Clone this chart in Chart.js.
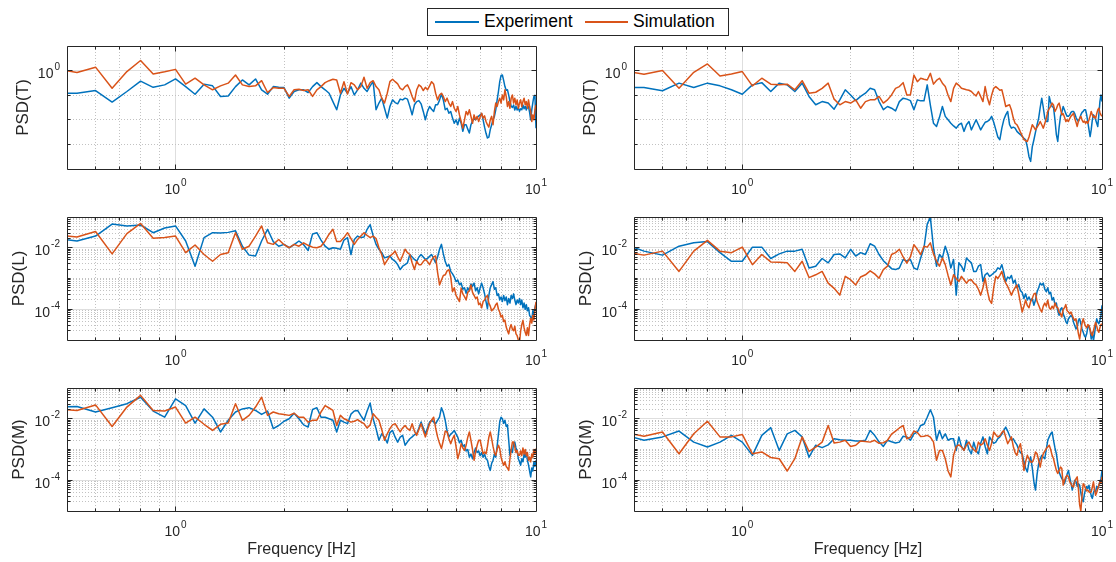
<!DOCTYPE html>
<html>
<head>
<meta charset="utf-8">
<title>PSD comparison</title>
<script src="https://cdn.jsdelivr.net/npm/chart.js"></script>
<style>
  html, body { margin: 0; padding: 0; background: #fff; }
  #fig { position: relative; width: 1116px; height: 562px; overflow: hidden;
         font-family: "Liberation Sans", Arial, Helvetica, sans-serif; }
  #fig canvas { position: absolute; left: 0; top: 0; }
  #legend { position: absolute; left: 427px; top: 8px; width: 302px; height: 28px;
            box-sizing: border-box; border: 1px solid #262626; background: #fff; }
  .sw { position: absolute; top: 12px; height: 2px; }
  .lt { position: absolute; top: 2px; font-size: 17.5px; line-height: 20px; color: #000; white-space: nowrap; }
</style>
</head>
<body>
<div id="fig">
  <canvas id="c1" width="1116" height="562"></canvas>
  <canvas id="c2" width="1116" height="562"></canvas>
  <canvas id="c3" width="1116" height="562"></canvas>
  <canvas id="c4" width="1116" height="562"></canvas>
  <canvas id="c5" width="1116" height="562"></canvas>
  <canvas id="c6" width="1116" height="562"></canvas>
  <div id="legend">
    <div class="sw" style="left:7px;width:44px;background:#0072BD"></div>
    <div class="lt" style="left:56px">Experiment</div>
    <div class="sw" style="left:157px;width:43px;background:#D95319"></div>
    <div class="lt" style="left:205px">Simulation</div>
  </div>
</div>
<script>
// frequency bins (Hz), resolution 1/15 Hz
const freqHz = [
  0.467, 0.533, 0.6, 0.667, 0.733, 0.8, 0.867, 0.933, 1,
  1.067, 1.133, 1.2, 1.267, 1.333, 1.4, 1.467, 1.533, 1.6, 1.667, 1.733, 1.8, 1.867, 1.933, 2,
  2.067, 2.133, 2.2, 2.267, 2.333, 2.4, 2.467, 2.533, 2.6, 2.667, 2.733, 2.8, 2.867, 2.933, 3,
  3.067, 3.133, 3.2, 3.267, 3.333, 3.4, 3.467, 3.533, 3.6, 3.667, 3.733, 3.8, 3.867, 3.933, 4,
  4.067, 4.133, 4.2, 4.267, 4.333, 4.4, 4.467, 4.533, 4.6, 4.667, 4.733, 4.8, 4.867, 4.933, 5,
  5.067, 5.133, 5.2, 5.267, 5.333, 5.4, 5.467, 5.533, 5.6, 5.667, 5.733, 5.8, 5.867, 5.933, 6,
  6.067, 6.133, 6.2, 6.267, 6.333, 6.4, 6.467, 6.533, 6.6, 6.667, 6.733, 6.8, 6.867, 6.933, 7,
  7.067, 7.133, 7.2, 7.267, 7.333, 7.4, 7.467, 7.533, 7.6, 7.667, 7.733, 7.8, 7.867, 7.933, 8,
  8.067, 8.133, 8.2, 8.267, 8.333, 8.4, 8.467, 8.533, 8.6, 8.667, 8.733, 8.8, 8.867, 8.933, 9,
  9.067, 9.133, 9.2, 9.267, 9.333, 9.4, 9.467, 9.533, 9.6, 9.667, 9.733, 9.8, 9.867, 9.933, 10
];

// all PSD series below are log10(PSD), one value per frequency bin

// PSD(T), left column
const tExpLeft = [
  -0.92, -0.92, -0.81, -1.28, -0.85, -0.43, -0.68, -0.58, -0.34,
  -0.65, -0.96, -0.55, -0.62, -1.05, -1.03, -0.65, -0.38, -0.58, -0.34, -0.78, -0.96, -0.65, -0.68, -0.69,
  -1.12, -0.85, -0.78, -0.78, -0.89, -0.65, -0.49, -0.65, -0.78, -0.92, -1.26, -1.59, -0.99, -0.72, -0.92,
  -0.65, -0.99, -0.78, -0.51, -0.72, -0.85, -0.62, -0.45, -1.59, -1.32, -1.12, -1.53, -1.93, -1.46, -1.19,
  -1.30, -1.35, -1.16, -1.19, -1.12, -1.16, -1.46, -1.80, -1.39, -1.26, -1.22, -1.35, -1.66, -2.00, -1.66,
  -1.46, -1.57, -1.66, -1.39, -1.39, -1.20, -0.95, -1.20, -1.59, -1.53, -1.73, -1.66, -1.93, -2.14, -2.00,
  -2.20, -1.93, -2.14, -2.47, -2.20, -2.20, -2.38, -2.54, -2.20, -2.05, -1.95, -2.00, -1.90, -1.85, -1.80,
  -1.75, -2.00, -2.30, -2.55, -2.74, -2.70, -2.40, -2.20, -2.00, -1.86, -1.60, -1.20, -0.85, -0.45, -0.20,
  -0.18, -0.40, -0.65, -0.80, -0.78, -1.00, -1.25, -1.45, -1.50, -1.40, -1.60, -1.45, -1.60, -1.50, -1.65,
  -1.55, -1.59, -1.40, -1.55, -1.45, -1.60, -1.45, -1.46, -1.70, -2.00, -1.60, -1.30, -1.05, -1.00, -2.34
];
const tSimLeft = [
  0.07, -0.08, 0.14, -0.72, -0.04, 0.41, -0.14, -0.05, 0.05,
  -0.55, -0.31, -0.58, -0.78, -0.62, -0.51, -0.18, -0.58, -0.65, -0.62, -0.41, -0.89, -0.69, -0.72, -0.72,
  -1.05, -0.78, -0.76, -0.81, -0.78, -1.05, -0.78, -0.65, -0.49, -0.41, -0.35, -0.38, -0.92, -0.45, -0.95,
  -0.49, -0.58, -0.78, -0.65, -0.27, -0.72, -0.49, -0.41, -0.65, -0.78, -1.12, -1.32, -0.92, -0.45, -0.35,
  -0.45, -0.54, -0.72, -0.78, -0.65, -0.58, -0.78, -1.05, -1.26, -0.78, -0.58, -0.65, -0.81, -0.68, -0.78,
  -0.62, -0.45, -0.54, -0.92, -1.19, -0.99, -0.92, -1.05, -1.26, -1.12, -1.32, -1.46, -1.26, -1.53, -1.66,
  -1.46, -1.80, -2.07, -2.34, -2.00, -1.66, -1.80, -1.59, -1.86, -2.14, -1.80, -2.00, -1.86, -2.07, -1.89,
  -1.73, -1.93, -1.84, -2.07, -2.20, -2.30, -2.00, -1.86, -2.20, -1.66, -1.32, -1.46, -1.26, -1.12, -1.32,
  -0.99, -1.19, -0.78, -1.05, -1.46, -1.26, -1.53, -1.12, -0.99, -1.32, -1.12, -1.39, -1.19, -1.53, -1.32,
  -1.19, -1.46, -1.26, -1.12, -1.39, -1.26, -1.53, -1.19, -1.46, -1.66, -2.07, -1.80, -2.00, -1.59, -1.39
];

// PSD(T), right column
const tExpRight = [
  -0.69, -0.69, -0.82, -0.51, -0.69, -0.51, -0.62, -0.78, -0.96,
  -0.58, -0.49, -0.85, -0.51, -0.58, -0.85, -0.51, -1.05, -1.39, -1.26, -1.32, -1.57, -1.19, -0.78, -0.99,
  -1.22, -1.05, -0.92, -0.72, -0.78, -1.26, -1.59, -1.46, -1.53, -1.64, -1.26, -1.12, -1.16, -1.22, -1.59,
  -1.19, -1.23, -1.23, -0.58, -1.40, -2.14, -2.27, -1.90, -1.46, -1.86, -2.00, -2.14, -2.25, -2.34, -2.20,
  -2.14, -2.47, -2.20, -2.07, -2.41, -2.20, -2.00, -2.20, -2.41, -2.25, -2.10, -2.07, -2.00, -1.86, -2.10,
  -2.40, -2.70, -2.81, -2.34, -2.00, -1.80, -1.66, -2.20, -2.34, -2.30, -2.34, -2.47, -2.54, -2.60, -2.68,
  -2.75, -2.81, -3.10, -3.50, -3.69, -3.10, -2.81, -2.50, -2.20, -1.93, -1.50, -1.12, -1.50, -1.93, -2.07,
  -2.07, -1.05, -1.30, -1.46, -1.50, -2.00, -2.60, -2.88, -2.30, -1.86, -1.70, -1.46, -1.60, -1.75, -1.86,
  -1.86, -1.80, -1.70, -1.66, -1.66, -1.75, -1.90, -2.00, -2.07, -1.95, -1.80, -1.70, -1.66, -1.59, -1.59,
  -1.80, -2.10, -2.40, -2.68, -2.40, -2.00, -1.80, -1.86, -2.00, -2.14, -2.27, -1.80, -1.26, -0.99, -1.26
];
const tSimRight = [
  0.00, -0.15, 0.00, -0.72, -0.07, 0.27, -0.22, -0.14, -0.04,
  -0.62, -0.31, -0.55, -0.58, -0.55, -0.78, -0.41, -0.92, -0.88, -0.72, -0.51, -1.16, -1.39, -1.26, -1.32,
  -1.19, -1.53, -1.26, -1.19, -1.19, -1.05, -1.32, -1.19, -0.99, -0.72, -0.65, -0.49, -0.99, -0.99, -0.18,
  -0.45, -0.31, -0.35, -0.38, -0.11, -0.55, -0.40, -0.31, -0.51, -0.65, -1.00, -1.26, -0.72, -0.51, -0.60,
  -0.72, -0.75, -0.78, -0.80, -0.85, -0.95, -1.03, -0.85, -1.05, -1.26, -0.65, -1.10, -1.39, -1.00, -0.72,
  -0.65, -0.72, -0.80, -0.78, -1.10, -1.46, -1.42, -1.39, -1.60, -1.93, -2.14, -2.20, -2.34, -2.50, -2.65,
  -2.81, -2.85, -2.88, -2.70, -2.45, -2.20, -2.30, -2.41, -2.30, -2.20, -2.07, -2.20, -2.34, -2.15, -1.95,
  -1.66, -1.55, -1.45, -1.32, -1.40, -1.66, -1.55, -1.40, -1.32, -1.55, -1.80, -1.75, -1.90, -2.07, -2.00,
  -2.07, -1.95, -1.85, -1.80, -1.73, -1.95, -2.10, -2.27, -2.05, -1.95, -1.86, -2.00, -2.10, -2.05, -2.14,
  -2.07, -2.14, -2.00, -1.85, -1.66, -1.80, -1.90, -1.86, -1.95, -1.75, -1.60, -1.53, -1.70, -1.80, -1.86
];

// PSD(L), left column
const lExpLeft = [
  -1.70, -1.78, -1.62, -1.23, -1.29, -1.26, -1.51, -1.36, -1.29,
  -1.78, -2.60, -1.67, -1.51, -1.52, -1.50, -1.45, -1.95, -2.24, -2.27, -1.78, -1.40, -1.80, -1.95, -1.89,
  -2.00, -1.90, -1.78, -1.90, -2.09, -1.55, -1.51, -1.75, -1.95, -2.05, -2.00, -2.02, -2.05, -1.75, -1.67,
  -2.22, -1.73, -1.62, -1.67, -1.65, -1.40, -1.25, -1.60, -1.89, -2.05, -2.16, -2.33, -2.30, -2.27, -2.38,
  -2.44, -2.55, -2.71, -2.60, -2.55, -2.49, -2.22, -2.30, -2.38, -2.44, -2.30, -2.22, -2.30, -2.38, -2.35,
  -2.28, -2.22, -2.35, -2.49, -2.30, -2.05, -1.89, -2.20, -2.45, -2.60, -2.55, -2.77, -2.85, -2.95, -3.10,
  -3.05, -3.20, -3.15, -3.35, -3.30, -3.48, -3.30, -3.40, -3.18, -3.25, -3.15, -3.40, -3.30, -3.50, -3.30,
  -3.15, -3.30, -3.50, -3.75, -3.98, -3.55, -3.30, -3.20, -3.10, -3.35, -3.30, -3.55, -3.50, -3.70, -3.60,
  -3.75, -3.55, -3.72, -3.60, -3.85, -3.65, -3.80, -3.55, -3.65, -3.50, -3.70, -3.85, -3.70, -3.80, -3.65,
  -3.85, -3.70, -3.95, -3.80, -4.00, -3.85, -4.05, -3.95, -4.20, -4.25, -4.36, -4.05, -4.20, -3.95, -3.81
];
const lSimLeft = [
  -1.59, -1.65, -1.47, -2.20, -1.54, -1.21, -1.69, -1.67, -1.62,
  -2.16, -1.91, -2.22, -2.44, -2.22, -2.16, -1.51, -2.05, -1.95, -1.62, -1.29, -1.84, -1.89, -1.73, -1.90,
  -2.00, -1.89, -1.95, -1.84, -1.92, -1.98, -2.00, -1.95, -1.78, -1.56, -1.40, -1.80, -1.80, -1.67, -1.51,
  -1.70, -1.89, -1.73, -1.62, -1.51, -1.60, -1.67, -1.62, -1.70, -2.00, -2.22, -2.55, -2.40, -2.27, -2.20,
  -2.11, -2.30, -2.44, -2.25, -2.05, -2.16, -2.22, -2.49, -2.71, -2.44, -2.55, -2.55, -2.45, -2.38, -2.45,
  -2.55, -2.40, -2.30, -2.27, -2.80, -3.21, -3.05, -2.90, -2.88, -2.75, -2.71, -2.95, -3.43, -3.30, -3.55,
  -3.65, -3.75, -3.32, -3.50, -3.59, -3.70, -3.45, -3.40, -3.21, -3.45, -3.55, -3.65, -3.60, -3.85, -3.80,
  -3.95, -3.75, -3.70, -3.60, -3.55, -3.80, -3.90, -4.05, -4.00, -3.95, -3.85, -3.80, -4.00, -4.10, -4.25,
  -4.20, -4.40, -4.35, -4.58, -4.70, -4.80, -4.60, -4.50, -4.65, -4.70, -4.55, -4.80, -4.86, -5.00, -5.10,
  -4.70, -4.50, -4.36, -4.60, -4.75, -4.85, -4.60, -4.85, -4.50, -4.30, -4.45, -4.20, -4.35, -4.00, -3.76
];

// PSD(L), right column
const lExpRight = [
  -1.87, -2.11, -2.24, -1.95, -1.84, -1.80, -2.16, -2.44, -2.44,
  -1.98, -1.98, -2.35, -2.20, -2.11, -2.11, -2.05, -2.66, -2.60, -2.35, -2.49, -2.22, -2.20, -2.33, -2.05,
  -2.27, -2.16, -2.22, -1.87, -1.95, -2.22, -2.42, -2.55, -2.68, -2.71, -2.66, -2.38, -2.44, -2.38, -2.66,
  -2.71, -2.33, -2.00, -1.23, -1.01, -2.00, -2.60, -2.22, -2.33, -1.95, -2.22, -2.66, -2.38, -3.54, -2.49,
  -2.60, -2.77, -2.33, -2.42, -2.49, -2.77, -2.77, -2.60, -2.55, -3.10, -2.88, -2.82, -2.93, -2.88, -2.82,
  -2.77, -2.65, -2.70, -2.55, -2.80, -3.10, -2.95, -3.00, -2.90, -3.15, -3.05, -3.30, -3.20, -3.40, -3.45,
  -3.65, -3.50, -3.70, -3.60, -3.72, -3.65, -3.87, -3.70, -3.43, -3.30, -3.15, -3.21, -3.15, -3.35, -3.43,
  -3.30, -3.50, -3.45, -3.70, -3.62, -3.85, -3.80, -4.05, -4.20, -4.00, -3.95, -4.15, -4.25, -4.40, -4.47,
  -4.31, -4.25, -4.20, -4.25, -4.42, -4.53, -4.64, -4.58, -4.36, -4.31, -4.47, -4.64, -4.75, -4.86, -4.91,
  -4.80, -4.58, -4.53, -4.69, -4.97, -4.75, -5.02, -4.80, -4.53, -4.31, -4.42, -4.47, -4.36, -4.20, -3.87
];
const lSimRight = [
  -2.13, -2.24, -2.11, -2.77, -2.11, -1.76, -2.11, -2.16, -1.98,
  -2.55, -2.22, -2.46, -2.47, -2.49, -2.77, -2.44, -2.97, -2.88, -2.77, -3.15, -3.32, -3.54, -2.93, -3.04,
  -3.21, -2.95, -2.88, -2.75, -2.85, -2.99, -2.71, -2.60, -2.22, -2.16, -2.05, -2.30, -2.50, -2.30, -1.90,
  -2.05, -2.22, -1.95, -1.98, -1.84, -2.20, -2.44, -2.60, -2.33, -2.55, -2.90, -3.21, -2.88, -3.00, -3.10,
  -2.93, -3.04, -3.15, -3.05, -3.04, -3.15, -3.21, -3.35, -3.54, -3.30, -2.99, -3.40, -3.70, -3.81, -3.30,
  -2.93, -3.00, -2.90, -2.77, -3.00, -3.15, -3.26, -3.40, -3.54, -3.40, -3.30, -3.21, -3.50, -3.80, -4.09,
  -3.90, -3.70, -3.88, -3.95, -3.75, -3.65, -3.50, -3.48, -3.75, -3.87, -4.00, -4.09, -3.90, -3.80, -3.90,
  -3.70, -3.95, -4.00, -3.90, -3.98, -3.80, -3.92, -3.95, -4.10, -4.15, -4.25, -4.00, -3.95, -3.85, -4.05,
  -4.09, -4.15, -4.09, -4.20, -4.30, -4.36, -4.31, -4.55, -4.80, -4.97, -4.70, -4.45, -4.31, -4.45, -4.55,
  -4.60, -4.50, -4.53, -4.65, -4.80, -4.86, -4.70, -4.55, -4.42, -4.55, -4.69, -4.75, -4.60, -4.50, -4.47
];

// PSD(M), left column
const mExpLeft = [
  -1.62, -1.60, -1.78, -1.64, -1.51, -1.30, -1.75, -1.95, -1.35,
  -1.57, -2.14, -1.68, -1.95, -2.43, -2.05, -1.78, -1.68, -1.64, -1.73, -1.86, -1.75, -2.32, -2.22, -2.08,
  -2.00, -1.82, -2.00, -2.20, -2.27, -1.70, -1.64, -1.95, -1.95, -2.00, -2.05, -2.43, -2.05, -2.11, -2.16,
  -1.85, -1.75, -1.73, -1.90, -2.05, -1.75, -1.49, -2.00, -2.32, -2.70, -2.49, -2.60, -2.79, -2.45, -2.38,
  -2.60, -2.76, -2.60, -2.54, -2.86, -2.75, -2.65, -2.59, -2.52, -2.49, -2.30, -2.11, -2.30, -2.49, -2.30,
  -2.11, -2.05, -2.10, -2.16, -2.05, -1.95, -1.64, -1.80, -2.05, -2.40, -2.59, -2.50, -2.45, -2.38, -2.50,
  -2.60, -2.78, -2.70, -2.90, -2.85, -3.05, -3.00, -3.25, -3.15, -3.30, -3.10, -2.95, -3.10, -3.05, -3.20,
  -3.10, -3.25, -3.15, -3.30, -3.35, -3.55, -3.68, -3.45, -3.35, -3.15, -3.25, -2.90, -2.50, -2.10, -1.95,
  -2.00, -2.15, -2.05, -2.25, -2.20, -2.70, -3.19, -3.00, -3.10, -2.80, -2.76, -2.95, -3.05, -3.30, -3.40,
  -3.51, -3.30, -3.40, -3.15, -3.25, -3.10, -3.35, -3.50, -3.70, -3.89, -3.60, -3.70, -3.40, -3.55, -3.35
];
const mSimLeft = [
  -1.69, -1.73, -1.55, -2.25, -1.62, -1.24, -1.73, -1.75, -1.62,
  -2.14, -1.95, -2.18, -2.38, -2.18, -2.14, -1.51, -2.05, -1.89, -1.62, -1.30, -1.89, -1.78, -1.84, -1.86,
  -1.89, -1.82, -1.95, -1.95, -2.11, -2.05, -2.05, -1.78, -1.57, -1.65, -1.73, -2.22, -1.89, -2.00, -2.05,
  -2.11, -2.08, -2.03, -2.10, -2.16, -2.30, -2.20, -1.84, -1.95, -2.05, -2.35, -2.70, -2.49, -2.32, -2.20,
  -2.16, -2.30, -2.43, -2.30, -2.22, -2.32, -2.38, -2.16, -2.40, -2.54, -2.35, -2.16, -2.38, -2.59, -2.38,
  -2.16, -2.05, -1.95, -2.30, -2.59, -2.80, -2.97, -2.70, -2.40, -2.43, -2.65, -2.81, -2.65, -2.54, -2.90,
  -3.30, -3.10, -2.81, -2.95, -3.03, -2.86, -2.60, -2.43, -2.70, -3.00, -3.35, -3.08, -2.86, -2.70, -2.70,
  -2.92, -3.14, -3.08, -3.14, -2.90, -2.60, -2.43, -2.65, -2.90, -3.10, -3.19, -3.00, -2.86, -2.97, -3.25,
  -3.40, -3.51, -3.40, -3.55, -3.60, -3.68, -3.30, -3.00, -2.76, -2.76, -2.92, -3.10, -3.03, -3.19, -3.19,
  -3.05, -3.20, -2.95, -3.15, -3.00, -3.20, -3.10, -3.35, -3.25, -3.40, -3.15, -3.25, -3.00, -3.15, -2.97
];

// PSD(M), right column
const mExpRight = [
  -2.51, -2.70, -2.59, -2.40, -2.76, -2.92, -2.76, -2.54, -2.76,
  -3.19, -2.54, -2.29, -3.03, -2.49, -2.38, -2.59, -3.25, -2.86, -2.94, -2.85, -2.65, -2.68, -2.70, -2.70,
  -2.72, -2.72, -2.70, -2.38, -2.54, -2.75, -2.90, -2.70, -2.75, -2.79, -2.76, -2.57, -2.59, -2.70, -2.49,
  -2.43, -2.22, -2.18, -1.95, -1.71, -1.95, -2.70, -2.38, -2.65, -2.49, -2.70, -2.65, -2.65, -3.03, -2.59,
  -2.90, -3.03, -2.70, -3.00, -3.14, -2.76, -3.03, -3.14, -2.80, -2.59, -2.90, -3.14, -2.59, -2.70, -2.80,
  -2.76, -2.65, -2.59, -2.50, -2.38, -2.27, -2.40, -2.55, -2.70, -2.65, -2.76, -2.85, -3.00, -3.10, -3.14,
  -3.40, -3.60, -3.73, -3.40, -3.24, -3.60, -4.05, -4.32, -3.80, -3.46, -3.30, -3.19, -3.25, -3.30, -3.00,
  -2.70, -2.59, -2.49, -2.43, -2.70, -2.95, -3.14, -3.45, -3.73, -3.85, -3.95, -4.00, -4.11, -3.95, -3.80,
  -3.68, -3.90, -4.10, -4.32, -4.15, -4.00, -4.05, -4.20, -4.11, -4.16, -4.40, -4.60, -4.70, -4.45, -4.30,
  -4.20, -4.27, -4.16, -4.35, -4.50, -4.59, -4.40, -4.32, -4.38, -4.20, -4.27, -4.16, -4.05, -3.95, -3.68
];
const mSimRight = [
  -2.43, -2.57, -2.43, -3.14, -2.49, -2.08, -2.59, -2.59, -2.51,
  -3.14, -3.08, -3.26, -3.30, -3.70, -3.30, -2.59, -3.06, -2.92, -2.76, -2.22, -2.79, -2.76, -2.70, -2.90,
  -2.86, -2.72, -2.74, -2.76, -2.70, -2.80, -2.78, -2.70, -2.50, -2.40, -2.30, -2.22, -2.65, -2.60, -2.40,
  -2.45, -2.58, -2.57, -2.54, -2.60, -2.75, -3.35, -3.03, -3.03, -3.30, -3.70, -3.89, -3.19, -2.90, -2.85,
  -2.92, -3.03, -2.85, -2.76, -2.92, -3.00, -3.08, -2.76, -2.86, -2.81, -2.65, -2.85, -3.03, -2.80, -2.43,
  -2.52, -2.59, -2.55, -2.45, -2.38, -2.60, -2.81, -2.70, -2.59, -2.90, -3.10, -3.19, -2.95, -2.81, -3.20,
  -3.68, -3.40, -3.19, -3.30, -3.41, -3.41, -3.30, -3.08, -3.14, -3.35, -3.57, -3.30, -3.14, -3.05, -2.97,
  -2.92, -2.86, -3.00, -3.19, -3.30, -3.50, -3.68, -3.78, -3.68, -3.57, -3.62, -4.16, -4.00, -3.89, -3.84,
  -3.89, -4.05, -4.11, -4.20, -4.22, -4.05, -3.95, -3.89, -4.30, -4.80, -5.00, -4.50, -4.11, -4.16, -4.27,
  -4.35, -4.32, -4.38, -4.40, -4.38, -4.22, -4.05, -4.30, -4.49, -4.40, -4.27, -4.16, -4.05, -4.11, -3.89
];

// tick values
const xMajorTicks = [1, 10];
const xMinorTicks = [0.5, 0.6, 0.7, 0.8, 0.9, 2, 3, 4, 5, 6, 7, 8, 9];
const yMajorT = [1];
const yMinorT = [1e-4, 1e-3, 1e-2, 1e-1, 10];
const yMajorLM = [1e-4, 1e-2];
const yMinorLM = [];
for (let e = -5; e <= -2; e++) {
  for (let m = 1; m <= 9; m++) {
    if (m === 1 && (e === -4 || e === -2)) continue;
    yMinorLM.push(m * Math.pow(10, e));
  }
}
yMinorLM.push(1e-1);

const FONT = '"Liberation Sans", Arial, Helvetica, sans-serif';
const INK = '#262626';
const BLUE = '#0072BD';
const ORANGE = '#D95319';

function makeTicks(major, minor) {
  return major.map(v => ({ value: v, major: true }))
    .concat(minor.map(v => ({ value: v, major: false })))
    .sort((a, b) => a.value - b.value);
}

function drawPow(ctx, exp, x, y, align) {
  const base = '10', sup = String(exp);
  ctx.font = '14px ' + FONT;
  const wb = ctx.measureText(base).width;
  ctx.font = '10px ' + FONT;
  const ws = ctx.measureText(sup).width;
  const total = wb + 1 + ws;
  const x0 = align === 'center' ? x - total / 2 : x - total;
  ctx.textAlign = 'left';
  ctx.textBaseline = 'middle';
  ctx.font = '14px ' + FONT;
  ctx.fillText(base, x0, y);
  ctx.font = '10px ' + FONT;
  ctx.fillText(sup, x0 + wb + 1, y - 7);
}

// box, inward ticks on all sides, power-of-ten labels, axis titles
const matlabAxes = {
  id: 'matlabAxes',
  afterDraw(chart, args, opts) {
    const { ctx, chartArea: a } = chart;
    const xs = chart.scales.x, ys = chart.scales.y;
    const al = p => Math.round(p - 0.5) + 0.5;
    const L = al(a.left), R = al(a.right), T = al(a.top), B = al(a.bottom);
    ctx.save();
    ctx.setLineDash([]);
    ctx.strokeStyle = INK;
    ctx.lineWidth = 1;
    ctx.beginPath();
    ctx.rect(L, T, R - L, B - T);
    xs.ticks.forEach(t => {
      const p = al(xs.getPixelForValue(t.value));
      if (p <= L + 1 || p >= R - 1) return;
      const len = t.major ? 5 : 3;
      ctx.moveTo(p, B); ctx.lineTo(p, B - len);
      ctx.moveTo(p, T); ctx.lineTo(p, T + len);
    });
    ys.ticks.forEach(t => {
      const p = al(ys.getPixelForValue(t.value));
      if (p <= T + 1 || p >= B - 1) return;
      const len = t.major ? 5 : 3;
      ctx.moveTo(L, p); ctx.lineTo(L + len, p);
      ctx.moveTo(R, p); ctx.lineTo(R - len, p);
    });
    ctx.stroke();

    ctx.fillStyle = INK;
    xs.ticks.filter(t => t.major).forEach(t => {
      drawPow(ctx, Math.round(Math.log10(t.value)), xs.getPixelForValue(t.value), a.bottom + 21, 'center');
    });
    ys.ticks.filter(t => t.major).forEach(t => {
      drawPow(ctx, Math.round(Math.log10(t.value)), a.left - 7, ys.getPixelForValue(t.value) + 3.5, 'right');
    });

    ctx.save();
    ctx.translate(a.left - opts.yTitleGap, (a.top + a.bottom) / 2);
    ctx.rotate(-Math.PI / 2);
    ctx.font = '17px ' + FONT;
    ctx.textAlign = 'center';
    ctx.textBaseline = 'middle';
    ctx.fillText(opts.yTitle, 0, 0);
    ctx.restore();

    if (opts.xTitle) {
      ctx.font = '16px ' + FONT;
      ctx.textAlign = 'center';
      ctx.textBaseline = 'middle';
      ctx.fillText(opts.xTitle, (a.left + a.right) / 2, a.bottom + 39);
    }
    ctx.restore();
  }
};

const colLeft = [67, 536];
const colRight = [634, 1102];
const rowTop = [46, 169];
const rowMid = [217, 340];
const rowBot = [388, 511];

const panels = [
  { id: 'c1', col: colLeft,  row: rowTop, exp: tExpLeft,  sim: tSimLeft,  yLim: [1e-4, 1e1], yMajor: yMajorT,  yMinor: yMinorT,  yTitle: 'PSD(T)', gap: 44 },
  { id: 'c2', col: colRight, row: rowTop, exp: tExpRight, sim: tSimRight, yLim: [1e-4, 1e1], yMajor: yMajorT,  yMinor: yMinorT,  yTitle: 'PSD(T)', gap: 44 },
  { id: 'c3', col: colLeft,  row: rowMid, exp: lExpLeft,  sim: lSimLeft,  yLim: [1e-5, 1e-1], yMajor: yMajorLM, yMinor: yMinorLM, yTitle: 'PSD(L)', gap: 48 },
  { id: 'c4', col: colRight, row: rowMid, exp: lExpRight, sim: lSimRight, yLim: [1e-5, 1e-1], yMajor: yMajorLM, yMinor: yMinorLM, yTitle: 'PSD(L)', gap: 48 },
  { id: 'c5', col: colLeft,  row: rowBot, exp: mExpLeft,  sim: mSimLeft,  yLim: [1e-5, 1e-1], yMajor: yMajorLM, yMinor: yMinorLM, yTitle: 'PSD(M)', gap: 48, xTitle: 'Frequency [Hz]' },
  { id: 'c6', col: colRight, row: rowBot, exp: mExpRight, sim: mSimRight, yLim: [1e-5, 1e-1], yMajor: yMajorLM, yMinor: yMinorLM, yTitle: 'PSD(M)', gap: 48, xTitle: 'Frequency [Hz]' }
];

const toPoints = logs => {
  if (logs.length !== freqHz.length) throw new Error('series length ' + logs.length);
  return logs.map((v, i) => ({ x: freqHz[i], y: Math.pow(10, v) }));
};

const gridColor = c => (c.tick && c.tick.major) ? '#dedede' : '#c2c2c2';
const gridDash = c => (c.tick && c.tick.major) ? [] : [1, 2];

panels.forEach(p => {
  new Chart(document.getElementById(p.id), {
    type: 'line',
    data: {
      datasets: [
        { label: 'Experiment', data: toPoints(p.exp), borderColor: BLUE, borderWidth: 1.5,
          pointRadius: 0, tension: 0, fill: false, clip: 0, order: 1, borderJoinStyle: 'round' },
        { label: 'Simulation', data: toPoints(p.sim), borderColor: ORANGE, borderWidth: 1.5,
          pointRadius: 0, tension: 0, fill: false, clip: 0, order: 0, borderJoinStyle: 'round' }
      ]
    },
    options: {
      responsive: false,
      maintainAspectRatio: false,
      animation: false,
      devicePixelRatio: 1,
      events: [],
      layout: { padding: { left: p.col[0], right: 1116 - p.col[1], top: p.row[0], bottom: 562 - p.row[1] } },
      plugins: {
        legend: { display: false },
        tooltip: { enabled: false },
        matlabAxes: { yTitle: p.yTitle, yTitleGap: p.gap, xTitle: p.xTitle || '' }
      },
      scales: {
        x: {
          type: 'logarithmic', min: 0.5, max: 10,
          afterFit: s => { s.height = 0; },
          afterBuildTicks: s => { s.ticks = makeTicks(xMajorTicks, xMinorTicks); },
          ticks: { display: false },
          grid: { drawTicks: false, lineWidth: 1, color: gridColor },
          border: { display: false, dash: gridDash }
        },
        y: {
          type: 'logarithmic', min: p.yLim[0], max: p.yLim[1],
          afterFit: s => { s.width = 0; },
          afterBuildTicks: s => { s.ticks = makeTicks(p.yMajor, p.yMinor); },
          ticks: { display: false },
          grid: { drawTicks: false, lineWidth: 1, color: gridColor },
          border: { display: false, dash: gridDash }
        }
      }
    },
    plugins: [matlabAxes]
  });
});
</script>
</body>
</html>
